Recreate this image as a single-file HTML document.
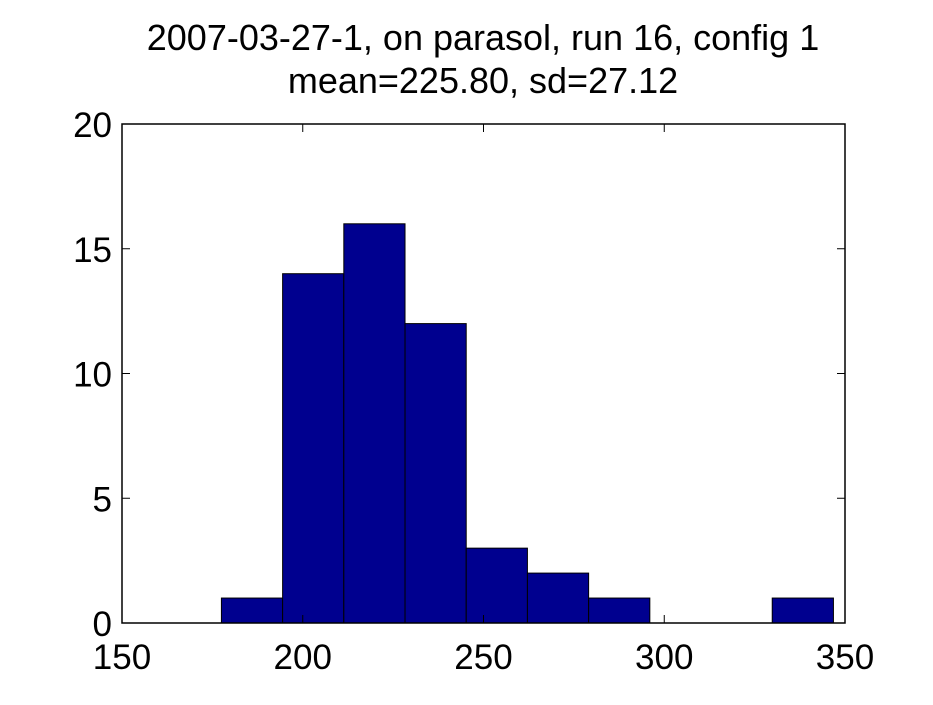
<!DOCTYPE html>
<html><head><meta charset="utf-8"><style>
body{margin:0;background:#fff;}
svg text{font-family:"Liberation Sans",Arial,sans-serif;fill:#000;}
</style></head><body>
<svg id="chart" width="933" height="700" xmlns="http://www.w3.org/2000/svg">
<rect width="933" height="700" fill="#fff"/>
<text x="483" y="50" font-size="36" text-anchor="middle">2007-03-27-1, on parasol, run 16, config 1</text>
<text x="483" y="93" font-size="36" text-anchor="middle">mean=225.80, sd=27.12</text>
<g id="bars"></g>
<g id="axes"></g>
</svg>
<script>
const binStart = 177.5;
const binWidth = 16.93;
const counts = [1,14,16,12,3,2,1,0,0,1];
const xTicks = [150,200,250,300,350];
const yTicks = [0,5,10,15,20];
const L=122,R=845,T=124,B=623;
const xs=v=>L+(v-150)/200*(R-L);
const ys=v=>B-v/20*(B-T);
const NS="http://www.w3.org/2000/svg";
const bars=document.getElementById('bars'),axes=document.getElementById('axes');
function mk(tag,attrs,parent){const e=document.createElementNS(NS,tag);for(const k in attrs)e.setAttribute(k,attrs[k]);parent.appendChild(e);return e;}
counts.forEach((c,i)=>{
  if(c<=0)return;
  const x0=xs(binStart+i*binWidth),x1=xs(binStart+(i+1)*binWidth);
  const r=mk('rect',{x:x0,y:ys(c),width:x1-x0,height:ys(0)-ys(c),fill:'#00008f',stroke:'#000','stroke-width':1},bars);
  
  
});
const box=mk('rect',{x:L,y:T,width:R-L,height:B-T,fill:'none',stroke:'#000','stroke-width':1.5},axes);


xTicks.forEach(v=>{
  const x=xs(v);
  mk('line',{x1:x,y1:B,x2:x,y2:B-8,stroke:'#000'},axes);
  mk('line',{x1:x,y1:T,x2:x,y2:T+8,stroke:'#000'},axes);
  const t=mk('text',{x:x,y:B+46,'font-size':35,'text-anchor':'middle'},axes);
  t.textContent=v;
  
  
});
yTicks.forEach(v=>{
  const y=ys(v);
  mk('line',{x1:L,y1:y,x2:L+8,y2:y,stroke:'#000'},axes);
  mk('line',{x1:R,y1:y,x2:R-8,y2:y,stroke:'#000'},axes);
  const t=mk('text',{x:L-10,y:y+13,'font-size':35,'text-anchor':'end'},axes);
  t.textContent=v;
  
  
});
</script>
</body></html>
